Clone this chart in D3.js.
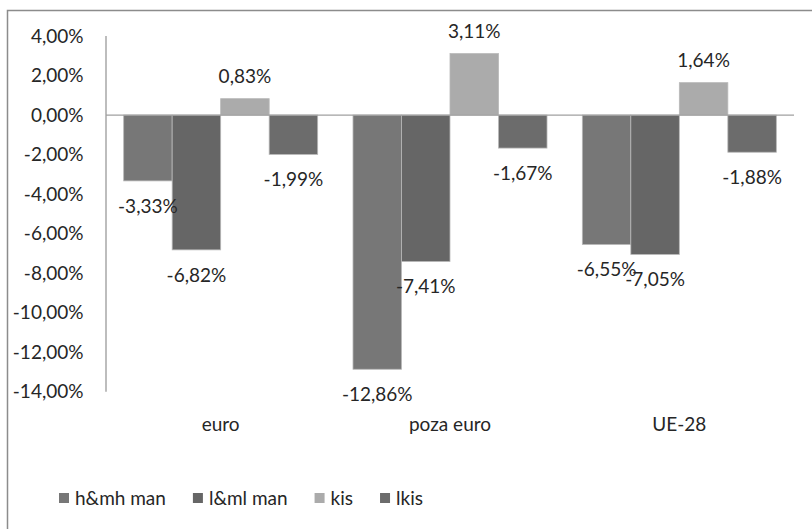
<!DOCTYPE html>
<html>
<head>
<meta charset="utf-8">
<script src="https://cdn.jsdelivr.net/npm/d3@7"></script>
<style>
  body { margin: 0; background: #fff; }
  text { font-family: Lato, "Open Sans", sans-serif; fill: #262626; font-size: 19px; }
</style>
</head>
<body>
<div id="chart"></div>
<script>
// data
var categories = ["euro", "poza euro", "UE-28"];
var seriesNames = ["h&mh man", "l&ml man", "kis", "lkis"];
var hmhMan = [-3.33, -12.86, -6.55];
var lmlMan = [-6.82, -7.41, -7.05];
var kis = [0.83, 3.11, 1.64];
var lkis = [-1.99, -1.67, -1.88];
var yTicks = [4, 2, 0, -2, -4, -6, -8, -10, -12, -14];
var colors = ["#777777", "#666666", "#ababab", "#6c6c6c"];

var allSeries = [hmhMan, lmlMan, kis, lkis];

var W = 812, H = 529;
var svg = d3.select("#chart").append("svg").attr("width", W).attr("height", H);

// chart frame (only left and top visible in original)
svg.append("rect").attr("x", 7.5).attr("y", 10.5).attr("width", W + 20).attr("height", H + 20)
  .attr("fill", "none").attr("stroke", "#8c8c8c").attr("stroke-width", 1.5);

var y = d3.scaleLinear().domain([-14, 4]).range([391.8, 36]);
var x = d3.scaleBand().domain(categories).range([106, 794]).paddingInner(0.154).paddingOuter(0.077);
var xs = d3.scaleBand().domain(d3.range(4)).range([0, x.bandwidth()]);

// y axis labels
svg.selectAll(".ytick").data(yTicks).enter().append("text")
  .attr("x", 83.5).attr("y", function(d){ return y(d); })
  .attr("dy", "0.35em").attr("text-anchor", "end")
  .text(function(d){ return d.toFixed(2).replace(".", ",") + "%"; });

// bars
var rows = [];
categories.forEach(function(c, ci){
  allSeries.forEach(function(s, si){ rows.push({c: c, si: si, v: s[ci]}); });
});

svg.selectAll(".bar").data(rows).enter().append("rect")
  .attr("x", function(d){ return x(d.c) + xs(d.si); })
  .attr("width", xs.bandwidth())
  .attr("y", function(d){ return y(Math.max(0, d.v)); })
  .attr("height", function(d){ return Math.abs(y(d.v) - y(0)); })
  .attr("fill", function(d){ return colors[d.si]; })
  .attr("stroke", "#b8b8b8").attr("stroke-width", 0.8);

// axis lines
svg.append("line").attr("x1", 106).attr("x2", 106).attr("y1", y(4)).attr("y2", y(-14))
  .attr("stroke", "#9a9a9a").attr("stroke-width", 1.3);
svg.append("line").attr("x1", 106).attr("x2", 794).attr("y1", y(0)).attr("y2", y(0))
  .attr("stroke", "#a0a0a0").attr("stroke-width", 1.3);

// value labels
svg.selectAll(".lbl").data(rows).enter().append("text")
  .attr("x", function(d){ return x(d.c) + xs(d.si) + xs.bandwidth() / 2; })
  .attr("y", function(d){ return d.v >= 0 ? y(d.v) - 22 : y(d.v) + 25; })
  .attr("dy", "0.35em").attr("text-anchor", "middle")
  .text(function(d){ return d.v.toFixed(2).replace(".", ",") + "%"; });

// category labels
svg.selectAll(".cat").data(categories).enter().append("text")
  .attr("x", function(d){ return x(d) + x.bandwidth() / 2; })
  .attr("y", 424).attr("dy", "0.35em").attr("text-anchor", "middle")
  .text(function(d){ return d; });

// legend
var lx = 59;
seriesNames.forEach(function(n, i){
  svg.append("rect").attr("x", lx).attr("y", 493).attr("width", 10).attr("height", 10)
    .attr("fill", colors[i]);
  var t = svg.append("text").attr("x", lx + 16).attr("y", 498).attr("dy", "0.35em").text(n);
  lx += 16 + t.node().getComputedTextLength() + 27;
});
</script>
</body>
</html>
